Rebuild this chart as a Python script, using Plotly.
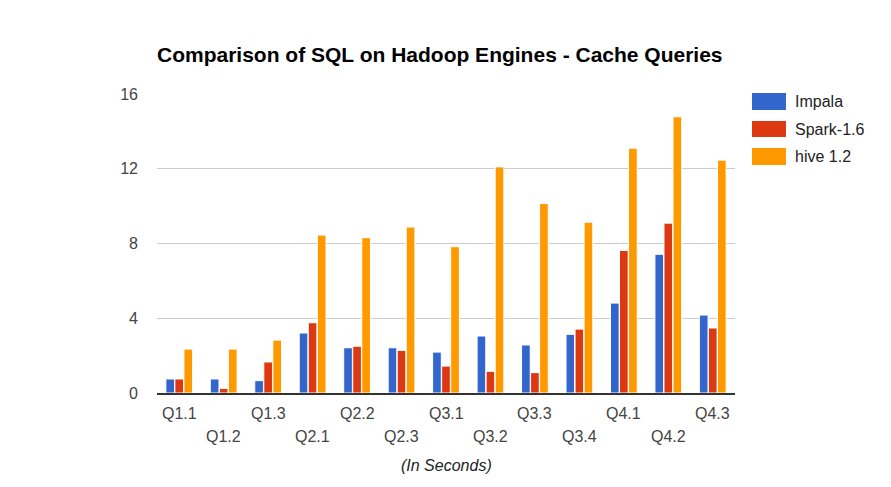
import plotly.graph_objects as go

categories = ["Q1.1", "Q1.2", "Q1.3", "Q2.1", "Q2.2", "Q2.3", "Q3.1",
              "Q3.2", "Q3.3", "Q3.4", "Q4.1", "Q4.2", "Q4.3"]
series_names = ["Impala", "Spark-1.6", "hive 1.2"]
impala = [0.75, 0.75, 0.66, 3.21, 2.42, 2.42, 2.19, 3.05, 2.57, 3.14, 4.81, 7.42, 4.17]
spark = [0.75, 0.25, 1.66, 3.76, 2.50, 2.28, 1.44, 1.16, 1.09, 3.42, 7.63, 9.09, 3.48]
hive = [2.35, 2.35, 2.83, 8.45, 8.31, 8.88, 7.83, 12.10, 10.14, 9.14, 13.10, 14.78, 12.46]
y_ticks = [0, 4, 8, 12, 16]
colors = ["#3366CC", "#DC3912", "#FF9900"]

fig = go.Figure()
for name, vals, color in zip(series_names, [impala, spark, hive], colors):
    fig.add_trace(go.Bar(x=categories, y=vals, name=name, showlegend=False,
                         marker=dict(color=color, line=dict(color="white", width=1))))

# alternating two-row category labels
annotations = []
for i, c in enumerate(categories):
    annotations.append(dict(x=c, xref="x", y=0, yref="paper", text=c,
                            showarrow=False, xanchor="center", yanchor="middle",
                            yshift=-20 if i % 2 == 0 else -43,
                            font=dict(size=16, color="#444444")))
# axis title
annotations.append(dict(x=0.5, xref="paper", y=0, yref="paper", text="<i>(In Seconds)</i>",
                        showarrow=False, xanchor="center", yanchor="middle", yshift=-72,
                        font=dict(size=16, color="#222222")))

# custom legend with wide swatches
shapes = []
leg_y = [(1.0033, 0.9465), (0.9097, 0.8559), (0.8194, 0.7625)]
for (y1, y0), name, color in zip(leg_y, series_names, colors):
    shapes.append(dict(type="rect", xref="paper", yref="paper", x0=1.0294, x1=1.0882,
                       y0=y0, y1=y1, fillcolor=color, line=dict(width=0)))
    annotations.append(dict(x=1.1003, xref="paper", y=(y0 + y1) / 2, yref="paper", text=name,
                            showarrow=False, xanchor="left", yanchor="middle",
                            font=dict(size=16, color="#222222")))

fig.update_layout(
    width=883, height=479,
    margin=dict(l=149, r=156, t=86, b=94, autoexpand=False),
    paper_bgcolor="white", plot_bgcolor="white",
    barmode="group", bargap=0.39, bargroupgap=0.04,
    font=dict(family="Liberation Sans, Arial, sans-serif", color="#444444", size=16),
    title=dict(text="<b>Comparison of SQL on Hadoop Engines - Cache Queries</b>",
               xref="container", x=0.489, xanchor="center",
               yref="container", y=0.902, yanchor="middle",
               font=dict(size=21, color="#000000")),
    showlegend=False,
    annotations=annotations,
    shapes=shapes,
    xaxis=dict(showline=True, linecolor="#333333", linewidth=1.5, automargin=False,
               showgrid=False, ticks="", showticklabels=False),
    yaxis=dict(range=[0, 16], tickvals=y_ticks, showgrid=True, gridcolor="#CCCCCC",
               zeroline=False, showline=False, ticks="", ticklabelstandoff=18,
               automargin=False, tickfont=dict(size=16, color="#444444")),
)

fig.write_html("out.html")
